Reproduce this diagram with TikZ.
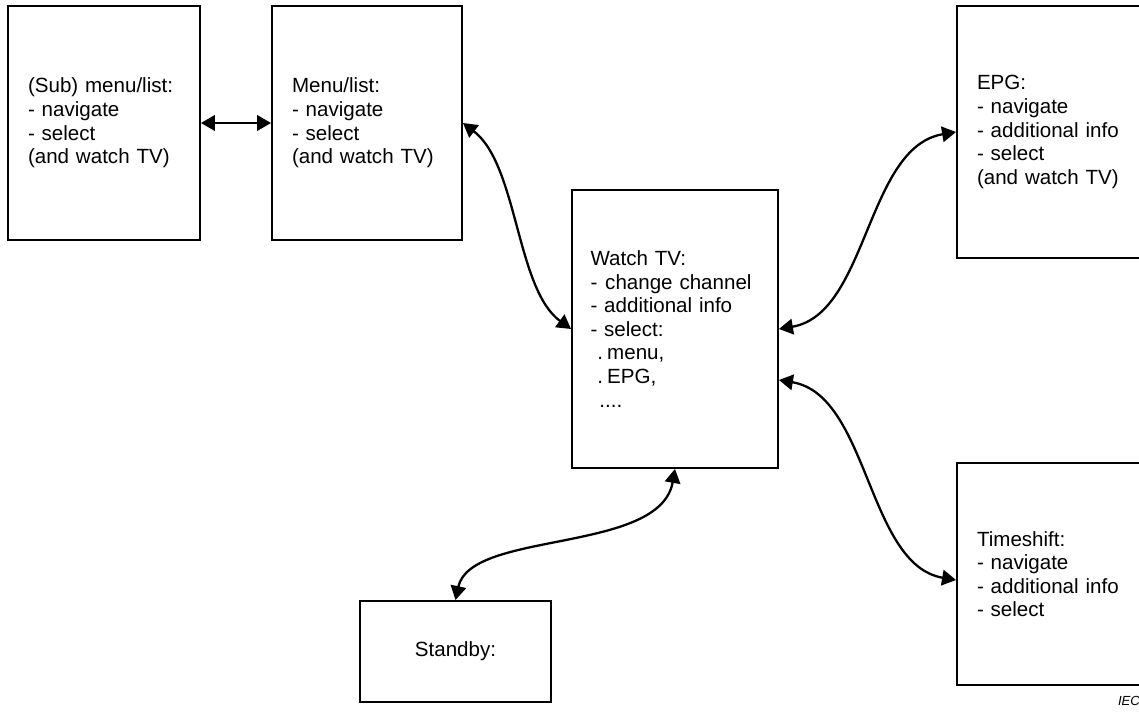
\documentclass[tikz,border=0pt]{standalone}
\usepackage{fontspec}
\setmainfont{Liberation Sans}
\usetikzlibrary{arrows.meta}
\begin{document}
\begin{tikzpicture}[x=0.02cm, y=-0.02cm]
		% Styles
		\tikzstyle{box} = [rectangle, draw=black, line width=1.1pt, align=left, inner xsep=0.4cm, inner ysep=0pt, font=\fontsize{11.7}{13.4}\selectfont]
		\tikzstyle{arrow} = [line width=1.3pt, {Triangle[length=2.8mm, width=3.1mm]}-{Triangle[length=2.8mm, width=3.1mm]}]
		\useasboundingbox (0,0) rectangle (1139,712);
		\clip (0,0) rectangle (1139,712);
		% Nodes
		\node (sub) [box, text width=3.04cm, minimum height=4.68cm] at (104,123) {(Sub) menu/list:\\- navigate\\- select\\(and watch TV)};
		\node (menu) [box, text width=3.0cm, minimum height=4.68cm] at (367,123) {Menu/list:\\- navigate\\- select\\(and watch TV)};
		\node (watch) [box, inner xsep=0.37cm, text width=3.38cm, minimum height=5.56cm] at (675,329) {Watch TV:\\- \hspace{0.05em}change channel\\- additional info\\- select:\\\ .\hspace{0.2em}menu,\\\ .\hspace{0.2em}EPG,\\\ \hspace{0.1em}....};
		\node (epg) [box, text width=3.2cm, minimum height=5.04cm] at (1057,132) {EPG:\\- navigate\\- additional info\\- select\\(and watch TV)};
		\node (tshift) [box, text width=3.2cm, minimum height=4.44cm] at (1057,574) {Timeshift:\\- navigate\\- additional info\\- select};
		\node (standby) [box, align=center, text width=3.02cm, minimum height=2.02cm] at (455.5,651.5) {Standby:};
		\node (iec) [font=\fontsize{7.5}{9}\selectfont\itshape, inner sep=0pt] at (1129,701) {IEC};
		% Arrows
		\draw [arrow] (sub.east) -- (menu.west);
		\draw [arrow] (menu.east) .. controls +(55,42) and +(-55,-40) .. (watch.west);
		\draw [arrow] (watch.east) .. controls +(89,-15) and +(-90,15) .. (epg.west);
		\draw [arrow] ([yshift=-1.02cm]watch.east) .. controls +(90,15) and +(-89,-15) .. ([yshift=-0.12cm]tshift.west);
		\draw [arrow] (standby.north) .. controls +(15,-70) and +(-15,85) .. (watch.south);
	\end{tikzpicture}
\end{document}
